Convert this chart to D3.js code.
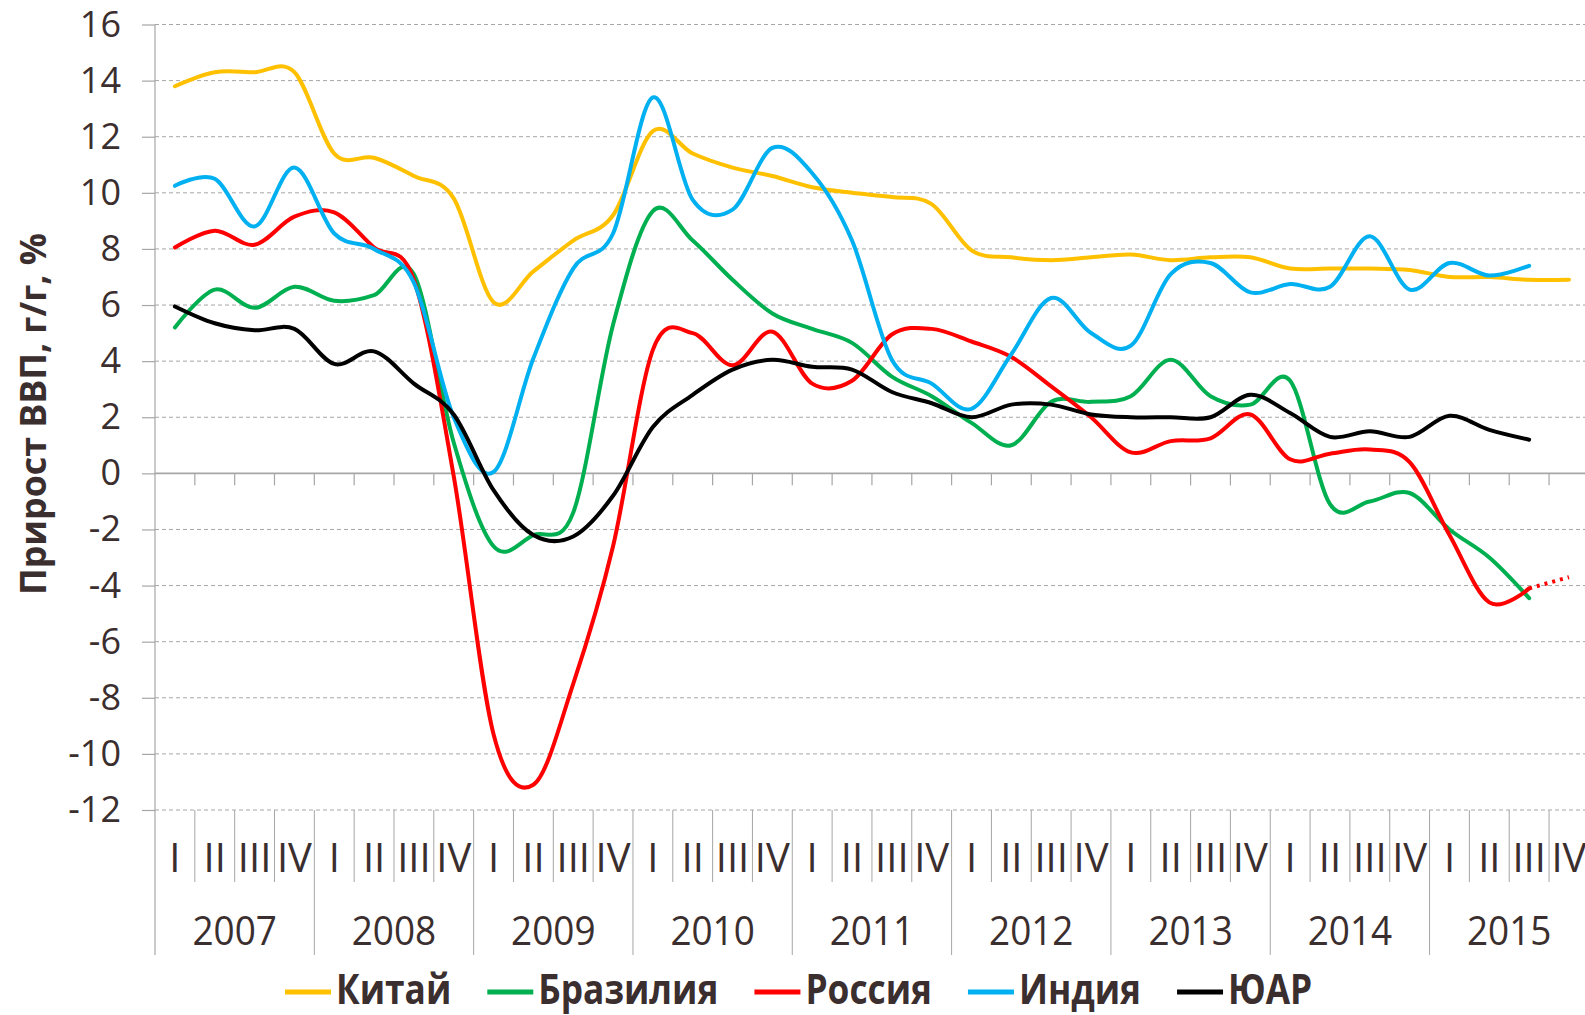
<!DOCTYPE html>
<html>
<head>
<meta charset="utf-8">
<script src="https://cdn.jsdelivr.net/npm/d3@7"></script>
<style>
  html, body { margin: 0; padding: 0; background: #fff; overflow: hidden; }
  text { font-family: "Open Sans", "Noto Sans", sans-serif; fill: #3b2e2e; }
</style>
</head>
<body>
<svg id="chart"></svg>
<script>
// quarters / years on the category axis
var quarters = ["I", "II", "III", "IV"];
var years = ["2007", "2008", "2009", "2010", "2011", "2012", "2013", "2014", "2015"];
var yTicks = [-12, -10, -8, -6, -4, -2, 0, 2, 4, 6, 8, 10, 12, 14, 16];

// GDP growth, % y/y, 2007 Q1 ...
var china = [13.8, 14.3, 14.3, 14.3, 11.4, 11.25, 10.6, 9.8, 6.1, 7.2, 8.3, 9.2,
  12.2, 11.4, 10.9, 10.6, 10.2, 10.0, 9.85, 9.6, 7.95, 7.7, 7.6, 7.7,
  7.8, 7.6, 7.7, 7.7, 7.3, 7.3, 7.3, 7.25, 7.0, 7.0, 6.9, 6.9];
var brazil = [5.2, 6.55, 5.9, 6.65, 6.15, 6.35, 7.1, 1.1, -2.6, -2.2, -1.4, 5.3,
  9.35, 8.3, 6.9, 5.7, 5.15, 4.65, 3.45, 2.75, 1.8, 1.0, 2.55, 2.55,
  2.75, 4.05, 2.75, 2.45, 3.3, -1.1, -1.0, -0.7, -2.0, -3.0, -4.45];
var russia = [8.05, 8.65, 8.15, 9.15, 9.3, 8.05, 6.9, -0.1, -9.3, -11.1, -7.5, -2.6,
  4.4, 5.0, 3.85, 5.05, 3.2, 3.3, 4.95, 5.15, 4.7, 4.15, 3.1, 2.0,
  0.75, 1.15, 1.25, 2.1, 0.5, 0.7, 0.85, 0.4, -2.2, -4.6, -4.1];
var russiaForecast = -3.7; // 2015 IV, dotted
var india = [10.25, 10.5, 8.8, 10.9, 8.55, 8.0, 6.8, 2.0, 0.05, 4.1, 7.3, 8.55,
  13.4, 9.75, 9.4, 11.6, 10.7, 8.3, 4.05, 3.2, 2.3, 4.25, 6.25, 5.0,
  4.55, 7.1, 7.5, 6.45, 6.75, 6.65, 8.45, 6.55, 7.5, 7.05, 7.4];
var southAfrica = [5.95, 5.35, 5.1, 5.15, 3.9, 4.35, 3.2, 2.1, -0.6, -2.2, -2.25, -0.8,
  1.65, 2.8, 3.7, 4.05, 3.8, 3.7, 2.9, 2.5, 2.0, 2.45, 2.45, 2.1,
  2.0, 2.0, 2.0, 2.8, 2.15, 1.3, 1.5, 1.3, 2.05, 1.55, 1.2];

var series = [
  { name: "Китай", color: "#FFC000", values: china },
  { name: "Бразилия", color: "#00B050", values: brazil },
  { name: "Россия", color: "#FF0000", values: russia },
  { name: "Индия", color: "#00B0F0", values: india },
  { name: "ЮАР", color: "#000000", values: southAfrica }
];

var width = 1585, height = 1015;
var left = 155, catW = 39.83, nCat = 36;
var gridColor = "#a6a6a6";

var svg = d3.select("#chart").attr("width", width).attr("height", height);

// scales
var x = d3.scaleBand()
  .domain(d3.range(nCat))
  .range([left, left + nCat * catW])
  .padding(0);
var cx = function(i) { return x(i) + x.bandwidth() / 2; };

var y = d3.scaleLinear().domain([-12, 16]).range([810, 24.5]);

// dashed gridlines
svg.append("g")
  .selectAll("line")
  .data(yTicks.filter(function(d) { return d !== 0; }))
  .enter().append("line")
  .attr("x1", left).attr("x2", left + nCat * catW)
  .attr("y1", function(d) { return y(d); })
  .attr("y2", function(d) { return y(d); })
  .attr("stroke", gridColor)
  .attr("stroke-width", 1)
  .attr("stroke-dasharray", "4,3");

// y axis
var yAxis = svg.append("g")
  .attr("transform", "translate(" + left + ",0)")
  .call(d3.axisLeft(y).tickValues(yTicks).tickSize(13).tickPadding(21)
    .tickFormat(function(d) { return String(d); }));
yAxis.select(".domain").remove();
yAxis.selectAll(".tick line").attr("stroke", gridColor).attr("stroke-width", 1.2);
yAxis.selectAll(".tick text")
  .attr("font-size", "36px")
  .style("font-family", "'Open Sans', 'Noto Sans', sans-serif")
  .attr("fill", "#3b2e2e");

// vertical axis line (runs down through the category labels)
svg.append("line")
  .attr("x1", left).attr("x2", left)
  .attr("y1", y(16)).attr("y2", 955)
  .attr("stroke", gridColor).attr("stroke-width", 1.2);

// zero line with tick marks
svg.append("line")
  .attr("x1", left).attr("x2", left + nCat * catW)
  .attr("y1", y(0)).attr("y2", y(0))
  .attr("stroke", gridColor).attr("stroke-width", 1.6);

svg.append("g")
  .selectAll("line")
  .data(d3.range(1, nCat))
  .enter().append("line")
  .attr("x1", function(k) { return x(k); })
  .attr("x2", function(k) { return x(k); })
  .attr("y1", y(0)).attr("y2", y(0) + 12)
  .attr("stroke", gridColor).attr("stroke-width", 1.2);

// category separators below the plot
svg.append("g")
  .selectAll("line")
  .data(d3.range(1, nCat))
  .enter().append("line")
  .attr("x1", function(k) { return x(k); })
  .attr("x2", function(k) { return x(k); })
  .attr("y1", y(-12))
  .attr("y2", function(k) { return k % 4 === 0 ? 955 : 882; })
  .attr("stroke", gridColor).attr("stroke-width", 1);

// quarter labels
svg.append("g")
  .selectAll("text")
  .data(d3.range(nCat))
  .enter().append("text")
  .attr("x", function(i) { return cx(i); })
  .attr("y", 872)
  .attr("text-anchor", "middle")
  .attr("font-size", "40px")
  .text(function(i) { return quarters[i % 4]; });

// year labels
svg.append("g")
  .selectAll("text")
  .data(years)
  .enter().append("text")
  .attr("x", function(d, j) { return x(j * 4) + 2 * x.bandwidth(); })
  .attr("y", 945)
  .attr("text-anchor", "middle")
  .attr("font-size", "41px")
  .text(function(d) { return d; })
  .each(function() {
    var w = this.getComputedTextLength();
    d3.select(this).attr("textLength", w * 0.9).attr("lengthAdjust", "spacingAndGlyphs");
  });

// y title
svg.append("text")
  .attr("transform", "translate(46,414) rotate(-90)")
  .attr("text-anchor", "middle")
  .attr("font-size", "36px")
  .attr("font-weight", "bold")
  .attr("textLength", 362)
  .attr("lengthAdjust", "spacingAndGlyphs")
  .text("Прирост ВВП, г/г, %");

// lines
var line = d3.line()
  .x(function(d, i) { return cx(i); })
  .y(function(d) { return y(d); })
  .curve(d3.curveCardinal.tension(0));

svg.append("g")
  .selectAll("path")
  .data(series)
  .enter().append("path")
  .attr("d", function(s) { return line(s.values); })
  .attr("fill", "none")
  .attr("stroke", function(s) { return s.color; })
  .attr("stroke-width", 4)
  .attr("stroke-linejoin", "round")
  .attr("stroke-linecap", "round");

// Russia forecast, dotted
var last = russia.length - 1;
svg.append("path")
  .attr("d", d3.line()([[cx(last), y(russia[last])], [cx(last + 1), y(russiaForecast)]]))
  .attr("fill", "none")
  .attr("stroke", "#FF0000")
  .attr("stroke-width", 4)
  .attr("stroke-dasharray", "3,5");

// legend
var lx = 285;
series.forEach(function(s) {
  svg.append("line")
    .attr("x1", lx).attr("x2", lx + 46)
    .attr("y1", 992).attr("y2", 992)
    .attr("stroke", s.color).attr("stroke-width", 5);
  var t = svg.append("text")
    .attr("x", lx + 51)
    .attr("y", 1004)
    .attr("font-size", "41px")
    .attr("font-weight", "bold")
    .text(s.name);
  var w = t.node().getComputedTextLength() * 0.86;
  t.attr("textLength", w).attr("lengthAdjust", "spacingAndGlyphs");
  lx += 51 + w + 36;
});
</script>
</body>
</html>
